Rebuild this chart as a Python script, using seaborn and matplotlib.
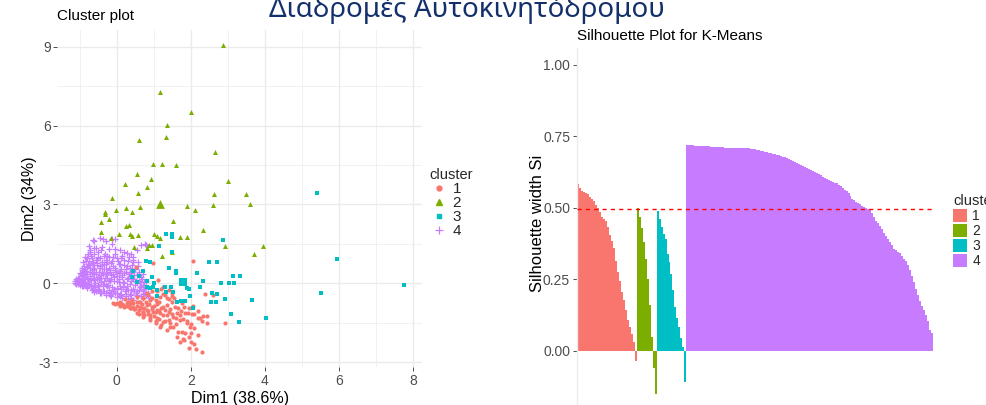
import matplotlib
matplotlib.use("Agg")
import numpy as np
import pandas as pd
import seaborn as sns
import matplotlib.pyplot as plt
from matplotlib.lines import Line2D
from matplotlib.patches import Patch

# ---------------- data: cluster plot (PCA coordinates) ----------------
c1_x = [2.05, 2.39, 2.61, 0.99, 0.51, 1.12, 1.24, 1.40, 1.50, 1.25, 1.76, 1.83, 1.93, 2.04,
        2.34, 2.45, 2.25, 2.94, 1.97, 1.77, 1.85, 2.00, 1.62, 1.83, 1.71, 2.02, 2.15, 2.30,
        1.35, 1.17, 1.05, 0.90, 0.72, 0.54, 0.36, 0.18, 0.00, -0.11, 0.09, 0.27, 0.45, 0.63,
        0.81, 0.99, 1.17, 1.35, 1.53, 1.44, 1.26, 1.08, 0.90, 0.72, 0.63, 0.81, 0.95, 1.08,
        1.26, 1.44, 1.62, 1.71, 1.53, 0.41, 0.23, 0.54, 0.72, 0.90, 1.08, 1.35, 1.49, 1.58,
        1.89, 0.81, 1.17, 1.35, 2.43, 0.30, 0.50, 0.70, 0.10, 0.60,
        0.05, 0.15, 0.25, 0.35, 0.45, 0.55, 0.65, 0.75, 0.85, 0.95, 1.05, 1.15, 1.25, 0.30,
        0.40, 0.55, 0.68, 0.78, 0.88, 1.00, 1.10, 1.20, 1.30, 1.40, 1.50, 1.60, 1.70, 1.80,
        1.90, 2.00, 2.10, 2.20, 1.95, 1.80, 1.65, 1.45, 1.30, 1.15, 1.00, 0.85, 0.70, 0.60,
        0.48, 0.38, 0.95, 1.05, 1.15, 1.30, 1.40, 1.55, 1.65, 1.75, 1.85, 2.10, 2.20, 2.30,
        2.10, 1.95, 1.60, 1.40, 1.20, 1.05, 0.20, 0.10, -0.05, 0.60, 0.75, 0.90, 1.50, 1.10,
        0.95, 1.20, 0.85, 0.70, 1.95, 2.05, 2.20]
c1_y = [0.85, -0.41, -0.44, 0.76, 0.63, 0.13, -0.13, -0.25, -0.47, -0.41, -0.76, -0.89, -1.14, -1.16,
        -1.23, -1.23, -1.33, -1.51, -1.65, -1.84, -1.90, -1.90, -2.03, -2.15, -2.22, -2.24, -2.51, -2.62,
        -1.77, -1.65, -1.52, -1.39, -1.27, -1.11, -0.95, -0.82, -0.76, -0.73, -0.70, -0.76, -0.76, -0.89,
        -1.01, -1.08, -1.14, -1.20, -1.27, -1.52, -1.46, -1.33, -1.20, -1.08, -0.70, -0.82, -0.89, -1.01,
        -0.89, -0.99, -1.14, -1.39, -1.65, -0.63, -0.61, -0.51, -0.57, -0.63, -0.70, -0.82, -0.70, -0.89,
        -1.52, -0.38, -0.51, -0.57, -1.49, -0.88, -0.98, -1.15, -0.80, -0.72,
        -0.80, -0.78, -0.85, -0.80, -0.90, -0.85, -0.95, -0.92, -1.05, -0.98, -1.10, -1.05, -1.20, -0.70,
        -0.68, -0.72, -0.78, -0.70, -0.80, -0.85, -0.78, -0.92, -1.00, -1.08, -1.18, -1.30, -1.22, -1.35,
        -1.45, -1.55, -1.70, -1.95, -2.05, -2.10, -1.85, -1.65, -1.45, -1.35, -1.25, -1.18, -1.10, -1.02,
        -0.98, -0.92, -0.55, -0.62, -0.70, -0.45, -0.60, -0.55, -0.95, -1.05, -1.12, -1.15, -1.30, -1.45,
        -2.30, -2.45, -1.55, -1.38, -1.58, -1.45, -0.90, -0.85, -0.78, -1.15, -1.22, -1.30, -0.35, -0.30,
        -0.30, -0.20, -0.45, -0.55, -0.95, -0.85, -1.05]

c2_x = [2.88, 1.17, 2.01, 1.37, 0.59, 1.32, 2.66, 0.99, 1.22, 1.60, 0.56, 3.00, 0.23, 0.81,
        0.93, 0.58, 2.64, 3.50, -0.14, 1.91, 2.61, 3.61, 0.63, 0.25, -0.02, 0.41, 2.11, -0.31,
        -0.32, -0.22, -0.42, 1.52, 0.25, 0.34, 2.34, -0.43, 0.06, 0.35, 0.41, 0.57, 1.01, 1.17,
        1.71, 1.90, -0.15, 1.10, 0.87, 0.95, 0.46, 2.94, 3.95, 1.50, 3.70, 1.22, 0.81]
c2_y = [9.06, 7.27, 6.50, 6.02, 5.44, 5.55, 5.00, 4.53, 4.53, 4.51, 4.15, 3.91, 3.77, 3.67,
        3.97, 3.44, 3.39, 3.39, 3.25, 2.95, 2.96, 3.01, 2.92, 2.87, 2.78, 2.72, 2.77, 2.71,
        2.63, 2.44, 2.35, 2.38, 2.18, 2.20, 2.01, 1.96, 1.87, 1.86, 1.81, 1.85, 1.87, 1.71,
        1.78, 1.78, 1.71, 1.80, 1.47, 1.47, 1.37, 1.41, 1.42, 1.20, 1.10, 1.04, 1.35]

c3_x = [5.42, 5.95, 5.51, 7.77, 1.33, 1.50, 1.50, 2.86, 1.13, 1.50, 2.50, 2.72, 0.78, 0.90,
        1.40, 1.61, 1.61, 2.16, 2.34, 2.25, 3.14, 3.34, 2.83, 3.03, 3.18, 1.89, 1.95, 1.99,
        2.57, 2.70, 2.94, 2.56, 2.67, 3.66, 2.07, 3.10, 3.31, 4.03, 0.43, 0.42, 0.72, 0.61,
        0.95, 1.02, 0.81, 1.08, 1.31, 1.47, 1.08, 1.64, 1.74, 1.85, 0.54, 0.81, 0.99, 1.32,
        1.51, 0.90]
c3_y = [3.42, 0.91, -0.35, -0.08, 1.87, 1.77, 1.87, 1.65, 1.43, 1.20, 0.80, 0.82, 0.84, 0.80,
        0.58, 0.48, 0.39, 0.39, 0.10, -0.15, 0.28, 0.29, 0.00, 0.00, 0.00, -0.19, -0.23, -0.47,
        -0.38, -0.41, -0.58, -0.72, -0.72, -0.63, -0.92, -1.18, -1.47, -1.30, 0.48, 0.25, 0.48, 0.28,
        0.25, 0.03, -0.15, -0.25, -0.15, -0.15, -0.47, -0.70, -0.67, -0.66, 0.06, 0.09, -0.13, -0.32,
        -0.32, -0.16]

c4_x = [-0.65, -0.62, -0.45, -0.38, -0.30, -0.12, -0.05, -0.75, -0.72, -0.55, -0.42, -0.20, -0.05, 0.10,
        0.20, 0.28, 0.40, 0.45, 0.45, 0.80, 0.65, 0.55, -0.85, -0.80, -0.70, -0.60, -0.50, -0.35,
        -0.25, -0.10, 0.00, 0.12, 0.30, -0.90, -0.78, -0.65, -0.52, -0.40, -0.28, -0.15, 0.05, 0.20,
        0.35, 0.50, 0.60, -0.95, -0.85, -0.72, -0.60, -0.45, -0.30, -0.18, -0.05, 0.10, 0.25, 0.40,
        0.55, -1.00, -0.90, -0.80, -0.68, -0.55, -0.42, -0.30, -0.15, 0.00, 0.15, 0.30, 0.45, 0.60,
        0.75, -1.10, -1.05, -0.95, -0.85, -0.72, -0.60, -0.48, -0.35, -0.22, -0.08, 0.05, 0.20, 0.35,
        0.50, 0.65, 0.80, -1.12, -1.00, -0.88, -0.75, -0.62, -0.50, -0.38, -0.25, -0.12, 0.00, 0.12,
        0.25, 0.40, 0.55, 0.70, 0.85, -0.95, -0.80, -0.65, -0.50, -0.35, -0.20, -0.05, 0.10, 0.25,
        0.40, 0.55, 0.70, -0.60, -0.45, -0.30, -0.15, 0.00, 0.15, 0.30, 0.45,
        -1.08, -1.05, -1.02, -0.98, -0.95, -0.92, -0.90, -0.88, -0.85, -0.82, -0.80, -0.78, -0.75, -0.72,
        -0.70, -0.68, -0.66, -0.64, -0.60, -0.58, -0.55, -0.52, -0.50, -0.48, -0.45, -0.42, -0.40, -0.38,
        -0.35, -0.32, -0.30, -0.28, -0.25, -0.22, -0.20, -0.18, -0.15, -0.12, -0.10, -0.08, -0.05, 0.00,
        0.02, 0.05, 0.08, 0.10, 0.12, 0.15, 0.18, 0.22, 0.25, 0.28, 0.32, 0.35, 0.38, 0.42,
        0.45, 0.48, 0.52, 0.55, 0.58, 0.62, 0.65, 0.70, 0.75, 0.80, 0.85, 0.90,
        -1.12, -1.10, -1.07, -1.04, -1.01, -0.99, -0.97, -0.94, -0.93, -0.91, -0.89, -0.87, -0.86, -0.84,
        -0.83, -0.81, -0.79, -0.77, -0.76, -0.74, -0.73, -0.71, -0.69, -0.67, -0.66, -0.63, -0.62, -0.61,
        -0.59, -0.57, -0.56, -0.54, -0.53, -0.51, -0.49, -0.47, -0.46, -0.44, -0.43, -0.41, -0.39, -0.37,
        -0.36, -0.33, -0.31, -0.29, -0.27, -0.26, -0.24, -0.21, -0.19, -0.17, -0.16, -0.14, -0.11, -0.09,
        -0.07, -0.04, -0.02, 0.01, 0.03, 0.06, 0.09, 0.11, 0.14, 0.16, 0.19, 0.21, 0.24, 0.27,
        0.29, 0.31, 0.34, 0.37, 0.39, 0.41, 0.44, 0.47, 0.49, 0.51, 0.54, 0.57, 0.59, 0.61,
        0.63, 0.66, 0.68, 0.72, 0.76, 0.78, 0.77, 0.71]
c4_y = [1.65, 1.62, 1.72, 1.70, 1.62, 1.68, 1.70, 1.42, 1.28, 1.35, 1.25, 1.30, 1.32, 1.28,
        1.20, 1.15, 1.10, 1.00, 0.90, 1.45, 1.45, 1.25, 1.00, 0.95, 1.05, 1.10, 1.00, 1.05,
        1.05, 1.00, 0.95, 0.95, 0.85, 0.80, 0.75, 0.80, 0.78, 0.82, 0.75, 0.78, 0.72, 0.70,
        0.60, 0.55, 0.45, 0.60, 0.55, 0.58, 0.55, 0.58, 0.55, 0.52, 0.50, 0.48, 0.45, 0.40,
        0.30, 0.40, 0.38, 0.35, 0.38, 0.35, 0.32, 0.35, 0.30, 0.28, 0.25, 0.20, 0.15, 0.10,
        0.05, 0.15, 0.20, 0.18, 0.15, 0.18, 0.12, 0.15, 0.10, 0.12, 0.08, 0.05, 0.00, -0.02,
        -0.05, -0.10, -0.15, 0.02, 0.00, -0.02, -0.05, -0.05, -0.08, -0.10, -0.12, -0.15, -0.18, -0.20,
        -0.22, -0.25, -0.28, -0.30, -0.35, -0.10, -0.15, -0.20, -0.25, -0.28, -0.32, -0.35, -0.40, -0.42,
        -0.45, -0.50, -0.55, -0.32, -0.38, -0.45, -0.50, -0.52, -0.55, -0.60, -0.62,
        0.08, -0.03, 0.12, 0.05, 0.28, -0.05, 0.10, 0.45, 0.25, -0.08, 0.62, 0.05, 0.85, 0.28,
        -0.12, 0.50, 0.95, 0.20, 0.70, -0.15, 0.45, 0.90, 0.25, -0.20, 0.65, 0.05, 0.45, -0.30,
        0.75, 0.20, -0.05, 0.90, 0.40, -0.25, 0.60, 0.10, -0.40, 0.85, 0.35, -0.20, 0.60, 0.10,
        -0.35, 0.40, -0.10, 0.75, -0.45, 0.30, 0.05, -0.30, 0.55, -0.10, 0.35, -0.40, 0.10, 0.70,
        -0.20, 0.30, -0.35, 0.05, 0.80, -0.15, 0.25, -0.40, -0.20, -0.45, -0.50, -0.55,
        0.08, -0.02, 0.12, 0.02, 0.22, -0.06, 0.35, 0.12, 0.50, -0.12, 0.65, 0.30, 0.02, 0.85,
        0.48, -0.18, 0.20, 1.10, 0.68, -0.02, 0.42, 1.20, 0.12, 0.78, -0.25, 0.60, 0.35, 1.35,
        0.02, 0.88, -0.30, 0.68, 0.15, 1.20, 0.42, -0.12, 0.95, 0.22, -0.35, 0.70, 1.40, 0.35,
        -0.02, 0.55, 1.10, -0.38, 0.22, 0.80, -0.08, 1.00, 0.45, -0.45, 0.15, 1.50, 0.65, -0.30,
        0.25, 1.10, 0.45, -0.22, 0.85, 0.15, -0.50, 0.55, 1.05, -0.15, 0.40, 0.90, -0.50, 0.15,
        0.65, -0.25, 1.00, 0.45, -0.55, 0.20, 0.80, -0.30, 0.55, 0.10, -0.45, 0.65, 0.35, -0.25,
        0.05, -0.50, 0.15, -0.05, -0.35, 0.10, 1.50, 0.34]

center_x = [1.17, 1.78]
center_y = [3.01, 0.04]
center_cluster = ["2", "3"]

# ---------------- data: silhouette widths (sorted within cluster) ----------------
sil_1 = [0.585, 0.57, 0.56, 0.555, 0.552, 0.548, 0.54, 0.532, 0.525, 0.51,
         0.50, 0.485, 0.47, 0.46, 0.455, 0.435, 0.405, 0.385, 0.36, 0.316,
         0.275, 0.245, 0.205, 0.18, 0.142, 0.11, 0.085, 0.061, 0.03, -0.035]
sil_2 = [0.50, 0.47, 0.43, 0.38, 0.32, 0.25, 0.16, 0.05, -0.06, -0.15]
sil_3 = [0.49, 0.46, 0.435, 0.41, 0.39, 0.34, 0.31, 0.27, 0.215, 0.155,
         0.115, 0.085, 0.045, 0.015, -0.11]
sil_4 = [0.719, 0.719, 0.719, 0.719, 0.718, 0.718, 0.718, 0.717, 0.716, 0.716,
         0.715, 0.715, 0.714, 0.714, 0.714, 0.713, 0.713, 0.712, 0.712, 0.711,
         0.711, 0.710, 0.710, 0.709, 0.709, 0.709, 0.709, 0.709, 0.709, 0.709,
         0.709, 0.708, 0.707, 0.706, 0.705, 0.704, 0.702, 0.700, 0.699, 0.697,
         0.696, 0.694, 0.692, 0.690, 0.688, 0.686, 0.684, 0.682, 0.680, 0.678,
         0.676, 0.673, 0.669, 0.665, 0.661, 0.657, 0.654, 0.651, 0.648, 0.644,
         0.640, 0.637, 0.634, 0.630, 0.627, 0.623, 0.619, 0.614, 0.609, 0.604,
         0.600, 0.597, 0.594, 0.592, 0.589, 0.586, 0.581, 0.576, 0.570, 0.564,
         0.559, 0.551, 0.542, 0.533, 0.527, 0.522, 0.518, 0.513, 0.508, 0.504,
         0.500, 0.496, 0.492, 0.484, 0.470, 0.455, 0.446, 0.436, 0.425, 0.413,
         0.402, 0.392, 0.382, 0.370, 0.358, 0.352, 0.347, 0.342, 0.333, 0.323,
         0.313, 0.302, 0.282, 0.262, 0.240, 0.218, 0.197, 0.176, 0.158, 0.145,
         0.126, 0.105, 0.075, 0.062]
avg_sil = 0.495

clusters = ["1", "2", "3", "4"]
palette = {"1": "#F8766D", "2": "#7CAE00", "3": "#00BFC4", "4": "#C77CFF"}

# ---------------- build tables ----------------
pts = pd.concat([
    pd.DataFrame({"Dim1": c1_x, "Dim2": c1_y, "cluster": "1"}),
    pd.DataFrame({"Dim1": c2_x, "Dim2": c2_y, "cluster": "2"}),
    pd.DataFrame({"Dim1": c3_x, "Dim2": c3_y, "cluster": "3"}),
    pd.DataFrame({"Dim1": c4_x, "Dim2": c4_y, "cluster": "4"}),
], ignore_index=True)
centers = pd.DataFrame({"Dim1": center_x, "Dim2": center_y, "cluster": center_cluster})

sil_vals = sil_1 + sil_2 + sil_3 + sil_4
sil_cl = (["1"] * len(sil_1) + ["2"] * len(sil_2) + ["3"] * len(sil_3) + ["4"] * len(sil_4))
sil = pd.DataFrame({"idx": np.arange(len(sil_vals)), "sil_width": sil_vals, "cluster": sil_cl})

# ---------------- figure ----------------
sns.set_theme(style="white")
plt.rcParams["font.family"] = ["Liberation Sans", "DejaVu Sans"]
plt.rcParams["axes.unicode_minus"] = False

fig = plt.figure(figsize=(9.86, 4.05), dpi=100)
ax1 = fig.add_axes([0.0583, 0.0926, 0.3697, 0.8338])
ax2 = fig.add_axes([0.5852, 0.0, 0.3611, 0.8815])

markers = {"1": "o", "2": "^", "3": "s", "4": "+"}
sizes = {"1": 9, "2": 13, "3": 9, "4": 22}
for k in ["4", "1", "2", "3"]:
    sub = pts[pts["cluster"] == k]
    if k == "4":
        sns.scatterplot(data=sub, x="Dim1", y="Dim2", ax=ax1, color=palette[k],
                        marker="+", s=sizes[k], linewidth=0.9, legend=False, zorder=3)
    else:
        sns.scatterplot(data=sub, x="Dim1", y="Dim2", ax=ax1, color=palette[k],
                        marker=markers[k], s=sizes[k], linewidth=0, legend=False, zorder=3)
for k in center_cluster:
    sub = centers[centers["cluster"] == k]
    sns.scatterplot(data=sub, x="Dim1", y="Dim2", ax=ax1, color=palette[k],
                    marker=markers[k], s=40, linewidth=0, legend=False, zorder=4)

ax1.set_xlim(-1.6, 8.25)
ax1.set_ylim(-3.2, 9.64)
ax1.set_xticks([0, 2, 4, 6, 8])
ax1.set_xticks([-1, 1, 3, 5, 7], minor=True)
ax1.set_yticks([-3, 0, 3, 6, 9])
ax1.set_yticks([-1.5, 1.5, 4.5, 7.5], minor=True)
ax1.grid(which="major", color="#EBEBEB", lw=1.0)
ax1.grid(which="minor", color="#EBEBEB", lw=0.5)
ax1.set_axisbelow(True)
for s in ax1.spines.values():
    s.set_visible(False)
ax1.tick_params(which="major", length=3, width=0.7, color="#4D4D4D",
                labelcolor="#4D4D4D", labelsize=10, pad=2, left=True, bottom=True)
ax1.tick_params(which="minor", length=0)
ax1.set_xlabel("Dim1 (38.6%)", fontsize=11.5, color="black", labelpad=2)
ax1.set_ylabel("Dim2 (34%)", fontsize=11.5, color="black", labelpad=1)
ax1.set_title("Cluster plot", loc="left", fontsize=11, pad=7, color="black")

leg_handles = [
    Line2D([], [], ls="", marker="o", color=palette["1"], markersize=3.5),
    Line2D([], [], ls="", marker="^", color=palette["2"], markersize=4.5),
    Line2D([], [], ls="", marker="s", color=palette["3"], markersize=3.5),
    Line2D([], [], ls="", marker="+", color=palette["4"], markersize=6, markeredgewidth=0.9),
]
fig.legend(leg_handles, clusters, title="cluster", loc="upper left",
           bbox_to_anchor=(0.428, 0.603), frameon=False, fontsize=11,
           title_fontsize=10.5, handletextpad=0.3, labelspacing=0.0,
           handlelength=1.2, borderpad=0, alignment="left")

# silhouette bars
sns.barplot(data=sil, x="idx", y="sil_width", hue="cluster", palette=palette,
            dodge=False, width=1, native_scale=True, errorbar=None, saturation=1,
            legend=False, ax=ax2, linewidth=0)
for p in ax2.patches:
    p.set_linewidth(0)
    p.set_edgecolor("none")
    p.set_antialiased(False)
ax2.axhline(avg_sil, color="#FF0000", ls=(0, (3, 3)), lw=1.0, zorder=5)
ax2.set_xlim(-0.5, len(sil_vals) - 0.5)
ax2.set_ylim(-0.1888, 1.0594)
ax2.set_yticks([0, 0.25, 0.5, 0.75, 1.0])
ax2.set_yticklabels(["0.00", "0.25", "0.50", "0.75", "1.00"])
ax2.set_xticks([])
ax2.set_xlabel("")
ax2.grid(False)
for name, s in ax2.spines.items():
    s.set_visible(name == "left")
ax2.spines["left"].set_color("#EBEBEB")
ax2.spines["left"].set_linewidth(1.0)
ax2.tick_params(axis="y", length=3, width=0.7, color="#4D4D4D",
                labelcolor="#4D4D4D", labelsize=10, pad=2, left=True)
ax2.set_ylabel("Silhouette width Si", fontsize=12, color="black")
ax2.yaxis.set_label_coords(-0.09, 0.51)
ax2.set_title("Silhouette Plot for K-Means", loc="left", fontsize=11, pad=6, color="black")

sil_handles = [Patch(facecolor=palette[k], edgecolor="none") for k in clusters]
fig.legend(sil_handles, clusters, title="cluster", loc="upper left",
           bbox_to_anchor=(0.9594, 0.538), frameon=False, fontsize=10,
           title_fontsize=10.5, handletextpad=0.4, labelspacing=0.05,
           handlelength=1.0, handleheight=1.1, borderpad=0, alignment="left")

fig.text(0.4736, 0.959, "Διαδρομές Αυτοκινητόδρομου", ha="center", va="baseline",
         fontsize=20, color="#14306B", family=["Noto Sans", "DejaVu Sans"])

fig.savefig("out.png", dpi=100)
